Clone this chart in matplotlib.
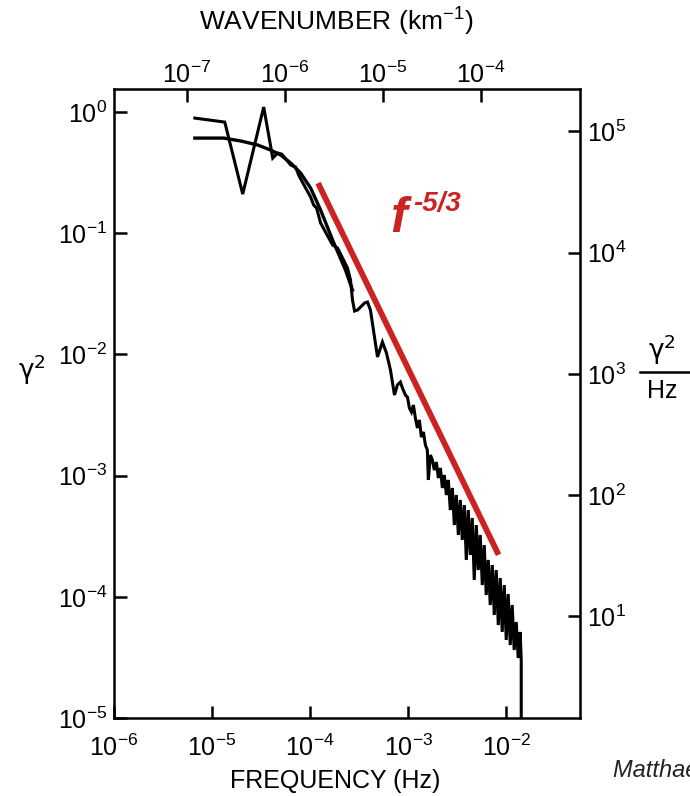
import numpy as np
import matplotlib.pyplot as plt
from matplotlib.lines import Line2D
from matplotlib.ticker import NullLocator

plt.rcParams['font.family'] = ['Liberation Sans Narrow', 'Liberation Sans', 'DejaVu Sans']
plt.rcParams['mathtext.default'] = 'regular'

# measured power spectrum (log10 frequency in Hz, log10 gamma^2)
spec_logf = [-5.176, -4.871, -4.688, -4.474, -4.382, -4.332, -4.291, -4.240, -4.199,
             -4.149, -4.118, -4.047, -3.996, -3.965, -3.935, -3.894, -3.833, -3.772,
             -3.721, -3.660, -3.620, -3.589, -3.569, -3.548, -3.518, -3.487, -3.447,
             -3.416, -3.386, -3.345, -3.314, -3.284, -3.264, -3.223, -3.182, -3.141,
             -3.111, -3.081, -3.060, -3.030, -3.009, -2.989, -2.968, -2.948, -2.928,
             -2.907, -2.887, -2.867, -2.846, -2.826, -2.806, -2.796, -2.775, -2.755,
             -2.735, -2.714,
             -2.694, -2.673, -2.653, -2.633, -2.612, -2.592, -2.572, -2.551, -2.531,
             -2.511, -2.490, -2.470, -2.450, -2.429, -2.409, -2.389, -2.368, -2.348,
             -2.328, -2.307, -2.287, -2.267, -2.246, -2.226, -2.206, -2.185, -2.165,
             -2.144, -2.124, -2.104, -2.083, -2.063, -2.043, -2.022, -2.002, -1.982,
             -1.961, -1.941, -1.921, -1.900, -1.880, -1.860, -1.849, -1.849]
spec_logp = [-0.050, -0.083, -0.677, 0.041, -0.380, -0.338, -0.347, -0.396, -0.437,
             -0.454, -0.520, -0.627, -0.701, -0.767, -0.792, -0.916, -1.007, -1.097,
             -1.122, -1.221, -1.287, -1.386, -1.551, -1.642, -1.634, -1.609, -1.576,
             -1.568, -1.634, -1.856, -2.021, -1.947, -1.898, -1.988, -2.129, -2.335,
             -2.252, -2.228, -2.277, -2.335, -2.352, -2.442, -2.475, -2.418, -2.525,
             -2.607, -2.541, -2.682, -2.640, -2.747, -2.789, -3.036, -2.830, -2.871,
             -2.954, -2.888,
             -3.020, -2.937, -3.102, -2.995, -3.160, -3.036, -3.284, -3.102, -3.408,
             -3.160, -3.490, -3.201, -3.531, -3.243, -3.696, -3.284, -3.655, -3.350,
             -3.861, -3.408, -3.779, -3.490, -3.903, -3.573, -3.985, -3.696, -4.068,
             -3.738, -4.150, -3.779, -4.233, -3.845, -4.290, -3.903, -4.356, -3.977,
             -4.398, -4.068, -4.439, -4.208, -4.505, -4.290, -4.521, -5.050]

# smooth fitted curve
fit_logf = [-5.176, -4.881, -4.708, -4.535, -4.403, -4.301, -4.199, -4.098, -3.996,
            -3.894, -3.772, -3.640, -3.569]
fit_logp = [-0.215, -0.215, -0.239, -0.272, -0.314, -0.355, -0.421, -0.503, -0.627,
            -0.809, -1.056, -1.304, -1.469]

slope = -5 / 3
slope_logf = [-3.92, -2.08]
slope_anchor = (-3.0, -2.12)

freq_ticks = [1e-6, 1e-5, 1e-4, 1e-3, 1e-2]
wave_ticks = [1e-7, 1e-6, 1e-5, 1e-4]
pow_ticks = [1e-5, 1e-4, 1e-3, 1e-2, 1e-1, 1e0]
dens_ticks = [1e1, 1e2, 1e3, 1e4, 1e5]
km_per_hz = 10 ** -1.74      # wavenumber = frequency * km_per_hz
dens_per_pow = 10 ** 5.16    # gamma^2/Hz = gamma^2 * dens_per_pow

W, H = 690, 796


def px(x, y):
    return x / W, 1 - y / H


def exp_label(v):
    return r'$10^{%d}$' % round(np.log10(v))


fig = plt.figure(figsize=(W / 100, H / 100), dpi=100)
ax = fig.add_axes([114 / W, 1 - 718 / H, (580 - 114) / W, (718 - 89) / H])
ax.set_xscale('log')
ax.set_yscale('log')
ax.set_xlim(1e-6, 10 ** -1.25)
ax.set_ylim(1e-5, 10 ** 0.19)

ax.plot(10 ** np.array(fit_logf), 10 ** np.array(fit_logp), color='black', lw=2.4)
ax.plot(10 ** np.array(spec_logf), 10 ** np.array(spec_logp), color='black', lw=2.2,
        solid_joinstyle='miter')

sf = 10 ** np.array(slope_logf)
sp = 10 ** slope_anchor[1] * (sf / 10 ** slope_anchor[0]) ** slope
ax.plot(sf, sp, color='#cc2222', lw=4.2, solid_capstyle='butt')

for s in ax.spines.values():
    s.set_linewidth(1.8)

tick_style = dict(direction='in', length=9, width=1.8, labelsize=18)

ax.set_xticks(freq_ticks)
ax.set_xticklabels([exp_label(v) for v in freq_ticks])
ax.set_yticks(pow_ticks)
ax.set_yticklabels([exp_label(v) for v in pow_ticks])
ax.xaxis.set_minor_locator(NullLocator())
ax.yaxis.set_minor_locator(NullLocator())
ax.tick_params(**tick_style)
ax.tick_params(axis='x', pad=12)
ax.tick_params(axis='y', pad=5)

top = ax.secondary_xaxis('top', functions=(lambda f: f * km_per_hz, lambda k: k / km_per_hz))
top.set_xticks(wave_ticks)
top.set_xticklabels([exp_label(v) for v in wave_ticks])
top.xaxis.set_minor_locator(NullLocator())
top.tick_params(pad=1, **tick_style)

right = ax.secondary_yaxis('right', functions=(lambda p: p * dens_per_pow, lambda q: q / dens_per_pow))
right.set_yticks(dens_ticks)
right.set_yticklabels([exp_label(v) for v in dens_ticks])
right.yaxis.set_minor_locator(NullLocator())
right.tick_params(pad=5, **tick_style)

fig.text(*px(336, 22), 'WAVENUMBER (km$^{-1}$)', ha='center', va='center', fontsize=19)
fig.text(*px(335, 781), 'FREQUENCY (Hz)', ha='center', va='center', fontsize=18)
fig.text(*px(32, 370), r'$\gamma^{2}$', ha='center', va='center', fontsize=19,
         family='DejaVu Sans')
fig.text(*px(662, 350), r'$\gamma^{2}$', ha='center', va='center', fontsize=19,
         family='DejaVu Sans')
fig.add_artist(Line2D([640 / W, 690 / W], [1 - 372 / H, 1 - 372 / H],
                      transform=fig.transFigure, color='black', lw=1.8))
fig.text(*px(662, 391), 'Hz', ha='center', va='center', fontsize=18)

fig.text(*px(390, 232), 'f', ha='left', va='baseline', fontsize=36,
         color='#cc2222', weight='bold', style='italic', family='Liberation Sans')
fig.text(*px(413, 211), '-5/3', ha='left', va='baseline', fontsize=20,
         color='#cc2222', weight='bold', style='italic', family='Liberation Sans')

fig.text(*px(613, 771), 'Matthaeus & Goldstein (1982)', ha='left', va='center',
         fontsize=17, style='italic', color='#222222', family='Liberation Sans')

fig.savefig('out.png', dpi=100)
